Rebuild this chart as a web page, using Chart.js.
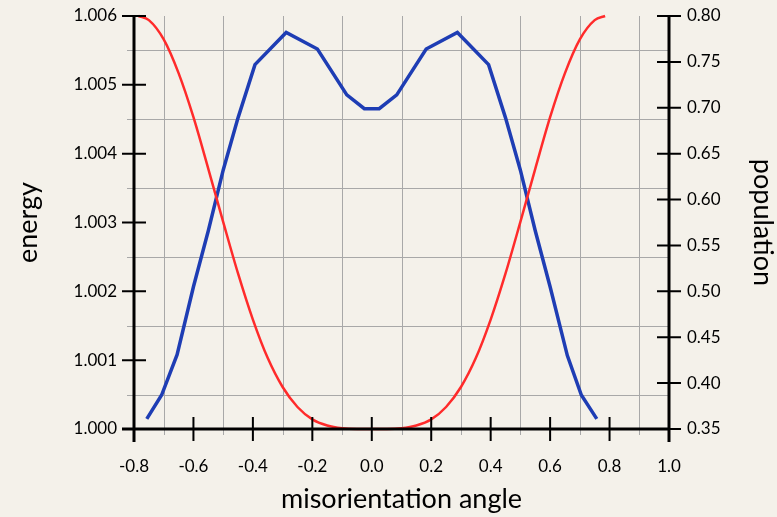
<!DOCTYPE html>
<html>
<head>
<meta charset="utf-8">
<script src="https://cdn.jsdelivr.net/npm/chart.js@4.4.0/dist/chart.umd.min.js"></script>
<style>
  html, body { margin: 0; padding: 0; background: #f4f1ea; }
  #wrap { width: 777px; height: 517px; }
</style>
</head>
<body>
<div id="wrap"><canvas id="chart" width="777" height="517"></canvas></div>
<script>
// energy curve (left axis)
const energyAngle = [-0.785, -0.75, -0.70, -0.65, -0.60, -0.55, -0.50, -0.45, -0.40, -0.35, -0.30, -0.25, -0.20, -0.15, -0.10, -0.05, 0.0,
                     0.05, 0.10, 0.15, 0.20, 0.25, 0.30, 0.35, 0.40, 0.45, 0.50, 0.55, 0.60, 0.65, 0.70, 0.75, 0.785];
const energyValues = [1.00600, 1.00594, 1.00566, 1.00517, 1.00453, 1.00378, 1.00301, 1.00226, 1.00159, 1.00103, 1.00061, 1.00032, 1.00014, 1.00005, 1.00001, 1.00000, 1.00000,
                      1.00000, 1.00001, 1.00005, 1.00014, 1.00032, 1.00061, 1.00103, 1.00159, 1.00226, 1.00301, 1.00378, 1.00453, 1.00517, 1.00566, 1.00594, 1.00600];

// population curve (right axis)
const populationAngle = [-0.757, -0.707, -0.655, -0.60, -0.55, -0.50, -0.45, -0.393, -0.288, -0.183, -0.084, -0.025,
                         0.025, 0.084, 0.183, 0.288, 0.393, 0.45, 0.50, 0.55, 0.60, 0.658, 0.705, 0.757];
const populationValues = [0.361, 0.387, 0.431, 0.505, 0.566, 0.632, 0.689, 0.747, 0.782, 0.764, 0.714, 0.699,
                          0.699, 0.714, 0.764, 0.782, 0.747, 0.689, 0.632, 0.566, 0.505, 0.430, 0.387, 0.361];

// ticks and grid
const xTicks = [-0.8, -0.6, -0.4, -0.2, 0.0, 0.2, 0.4, 0.6, 0.8, 1.0];
const xGrid = [-0.7, -0.5, -0.3, -0.1, 0.1, 0.3, 0.5, 0.7, 0.9];
const energyTicks = [1.000, 1.001, 1.002, 1.003, 1.004, 1.005, 1.006];
const energyGrid = [1.0005, 1.0015, 1.0025, 1.0035, 1.0045, 1.0055];
const populationTicks = [0.35, 0.40, 0.45, 0.50, 0.55, 0.60, 0.65, 0.70, 0.75, 0.80];

const FONT = 'Lato, "Open Sans", sans-serif';

// grid under the curves, black axes with crossing ticks on top
const paperAxes = {
    id: 'paperAxes',
    beforeDatasetsDraw(chart) {
        const { ctx, chartArea: { left, right, top, bottom }, scales } = chart;
        ctx.save();
        ctx.strokeStyle = '#a8a8a8';
        ctx.lineWidth = 1;
        ctx.beginPath();
        xGrid.forEach(v => {
            const px = Math.round(scales.x.getPixelForValue(v)) + 0.5;
            ctx.moveTo(px, top);
            ctx.lineTo(px, bottom + 6);
        });
        energyGrid.forEach(v => {
            const py = Math.round(scales.y.getPixelForValue(v)) + 0.5;
            ctx.moveTo(left - 7, py);
            ctx.lineTo(right, py);
        });
        ctx.stroke();
        ctx.restore();
    },
    afterDatasetsDraw(chart) {
        const { ctx, chartArea: { left, right, top, bottom }, scales } = chart;
        ctx.save();
        ctx.strokeStyle = '#000';
        ctx.lineWidth = 3;
        ctx.beginPath();
        ctx.moveTo(left, top);
        ctx.lineTo(left, bottom + 13);
        ctx.moveTo(right, top);
        ctx.lineTo(right, bottom + 13);
        ctx.moveTo(left - 12, bottom);
        ctx.lineTo(right, bottom);
        ctx.stroke();

        ctx.lineWidth = 2;
        ctx.beginPath();
        energyTicks.forEach(v => {
            const py = scales.y.getPixelForValue(v);
            ctx.moveTo(left - 12, py);
            ctx.lineTo(left + 12, py);
        });
        populationTicks.forEach(v => {
            const py = scales.y1.getPixelForValue(v);
            ctx.moveTo(right - 12, py);
            ctx.lineTo(right + 12, py);
        });
        xTicks.forEach(v => {
            const px = scales.x.getPixelForValue(v);
            ctx.moveTo(px, bottom - 12);
            ctx.lineTo(px, bottom + 12);
        });
        ctx.stroke();
        ctx.restore();
    }
};

const ctx = document.getElementById('chart').getContext('2d');
new Chart(ctx, {
    type: 'line',
    data: {
        datasets: [{
            label: 'energy',
            data: energyAngle.map((a, i) => ({ x: a, y: energyValues[i] })),
            yAxisID: 'y',
            borderColor: '#ff2b2b',
            borderWidth: 2.5,
            pointRadius: 0,
            cubicInterpolationMode: 'monotone',
            clip: false
        }, {
            label: 'population',
            data: populationAngle.map((a, i) => ({ x: a, y: populationValues[i] })),
            yAxisID: 'y1',
            borderColor: '#1e3db4',
            borderWidth: 3.5,
            pointRadius: 0,
            tension: 0,
            clip: false
        }]
    },
    options: {
        responsive: false,
        animation: false,
        layout: { padding: { top: 16, left: 0, right: 0, bottom: 0 } },
        plugins: { legend: { display: false }, tooltip: { enabled: false } },
        scales: {
            x: {
                type: 'linear',
                position: 'bottom',
                min: -0.8,
                max: 1.0,
                grid: { display: false, drawTicks: false },
                border: { display: false },
                afterBuildTicks: s => { s.ticks = xTicks.map(v => ({ value: v })); },
                afterFit: s => { s.height = 88; s.paddingLeft = 0; s.paddingRight = 0; },
                ticks: {
                    autoSkip: false,
                    maxRotation: 0,
                    padding: 27,
                    color: '#000',
                    font: { family: FONT, size: 17 },
                    callback: v => v.toFixed(1)
                },
                title: {
                    display: true,
                    text: 'misorientation angle',
                    color: '#000',
                    font: { family: FONT, size: 27 },
                    padding: { top: 0, bottom: 2 }
                }
            },
            y: {
                position: 'left',
                min: 1.000,
                max: 1.006,
                grid: { display: false, drawTicks: false },
                border: { display: false },
                afterBuildTicks: s => { s.ticks = energyTicks.map(v => ({ value: v })); },
                afterFit: s => { s.width = 134; s.paddingTop = 0; s.paddingBottom = 0; },
                ticks: {
                    padding: 17,
                    color: '#000',
                    font: { family: FONT, size: 17 },
                    callback: v => v.toFixed(3)
                },
                title: {
                    display: true,
                    text: 'energy',
                    color: '#000',
                    font: { family: FONT, size: 27 },
                    padding: { top: 12, bottom: 0 }
                }
            },
            y1: {
                position: 'right',
                min: 0.35,
                max: 0.80,
                grid: { display: false, drawTicks: false },
                border: { display: false },
                afterBuildTicks: s => { s.ticks = populationTicks.map(v => ({ value: v })); },
                afterFit: s => { s.width = 108; s.paddingTop = 0; s.paddingBottom = 0; },
                ticks: {
                    padding: 18,
                    color: '#000',
                    font: { family: FONT, size: 17 },
                    callback: v => v.toFixed(2)
                },
                title: {
                    display: true,
                    text: 'population',
                    color: '#000',
                    font: { family: FONT, size: 27 },
                    padding: { top: -2, bottom: 0 }
                }
            }
        }
    },
    plugins: [paperAxes]
});
</script>
</body>
</html>
